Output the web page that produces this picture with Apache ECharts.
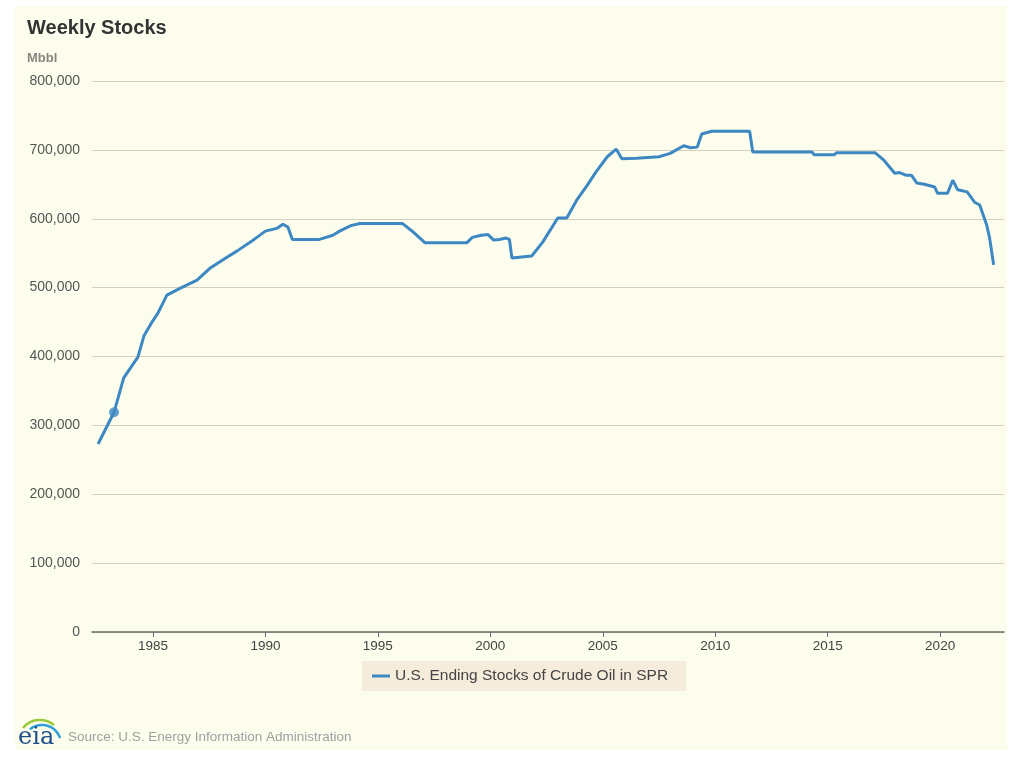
<!DOCTYPE html>
<html>
<head>
<meta charset="utf-8">
<script src="https://cdn.jsdelivr.net/npm/echarts@6/dist/echarts.min.js"></script>
<style>
html,body{margin:0;padding:0;background:#ffffff;}
#chart{width:1024px;height:768px;}
</style>
</head>
<body>
<div id="chart"></div>
<script>
// Decimal year of each reading
var years = [1982.56, 1983.27, 1983.7, 1984.33, 1984.6, 1984.96, 1985.22, 1985.62, 1986.2, 1986.96,
  1987.53, 1988.29, 1988.73, 1989.5, 1990.0, 1990.5, 1990.78, 1991.0, 1991.2, 1992.4,
  1993.0, 1993.3, 1993.8, 1994.2, 1996.1, 1996.6, 1997.1, 1998.95, 1999.2, 1999.6,
  1999.9, 2000.15, 2000.4, 2000.7, 2000.85, 2000.96, 2001.84, 2002.33, 2003.0, 2003.4,
  2003.84, 2004.3, 2004.7, 2005.2, 2005.6, 2005.85, 2006.5, 2007.5, 2008.0, 2008.6,
  2008.9, 2009.2, 2009.4, 2009.84, 2011.53, 2011.67, 2014.3, 2014.4, 2015.3, 2015.4,
  2017.1, 2017.5, 2017.98, 2018.2, 2018.5, 2018.73, 2018.96, 2019.3, 2019.76, 2019.89,
  2020.33, 2020.56, 2020.78, 2021.2, 2021.53, 2021.76, 2022.07, 2022.2, 2022.38];
// U.S. Ending Stocks of Crude Oil in SPR (Mbbl)
var stocks = [273000, 319000, 369000, 399000, 430000, 450000, 463000, 489000, 499000, 511000,
  528000, 544000, 553000, 570000, 582000, 586000, 592000, 588000, 570000, 570000,
  576000, 582000, 590000, 593000, 593000, 580000, 565000, 565000, 573000, 576000,
  577000, 569000, 570000, 572000, 570000, 543000, 546000, 566000, 601000, 601000,
  627000, 648000, 668000, 690000, 701000, 687000, 688000, 690000, 695000, 706000,
  703000, 704000, 723000, 727000, 727000, 697000, 697000, 693000, 693000, 696000,
  696000, 685000, 666000, 667000, 663000, 663000, 652000, 650000, 646000, 637000,
  637000, 656000, 642000, 639000, 624000, 620000, 591000, 572000, 533000];
// Highlighted point
var markYear = [1983.27];
var markValue = [319000];
var xTicks = [1985, 1990, 1995, 2000, 2005, 2010, 2015, 2020];
var seriesName = 'U.S. Ending Stocks of Crude Oil in SPR';

var lineData = years.map(function (y, i) { return [y, stocks[i]]; });
var markData = markYear.map(function (y, i) { return [y, markValue[i]]; });

var chart = echarts.init(document.getElementById('chart'));
var font = "'Liberation Sans', Arial, sans-serif";
chart.setOption({
  backgroundColor: '#ffffff',
  animation: false,
  textStyle: { fontFamily: font },
  title: [
    { text: 'Weekly Stocks', left: 22, top: 13, textStyle: { fontSize: 20, fontWeight: 'bold', color: '#333333', fontFamily: font } },
    { text: 'Mbbl', left: 22, top: 47, textStyle: { fontSize: 13, fontWeight: 'bold', color: '#8c8480', fontFamily: font } }
  ],
  grid: { left: 92, right: 20, top: 81, bottom: 136, containLabel: false },
  xAxis: {
    type: 'value',
    min: 1982.29, max: 2022.84,
    axisLine: { show: true, lineStyle: { color: '#6b6b6b', width: 1.5 } },
    axisTick: { show: true, customValues: xTicks, length: 5, lineStyle: { color: '#6b6b6b' } },
    axisLabel: { customValues: xTicks, color: '#444444', fontSize: 13.5, margin: 7, formatter: function (v) { return String(Math.round(v)); } },
    splitLine: { show: false }
  },
  yAxis: {
    type: 'value',
    min: 0, max: 800000, interval: 100000,
    axisLine: { show: false },
    axisTick: { show: false },
    axisLabel: { color: '#555555', fontSize: 14, margin: 12, formatter: function (v) { return v.toLocaleString('en-US'); } },
    splitLine: { lineStyle: { color: '#d3d0bd', width: 1 } }
  },
  legend: {
    data: [seriesName],
    left: 362, top: 661,
    padding: [7, 18, 7, 10],
    backgroundColor: '#f6ecdc',
    icon: 'rect', itemWidth: 18, itemHeight: 3, itemGap: 8,
    textStyle: { fontSize: 15.5, color: '#444444', fontFamily: font }
  },
  series: [
    {
      name: seriesName, type: 'line', data: lineData,
      showSymbol: false, smooth: false,
      lineStyle: { color: '#3d88c3', width: 3 },
      itemStyle: { color: '#3d88c3' },
      z: 3
    },
    {
      name: 'marker', type: 'scatter', data: markData,
      symbolSize: 10, itemStyle: { color: '#3d88c3' }, z: 4
    }
  ],
  graphic: [
    { type: 'rect', z: -100, shape: { x: 15, y: 6, width: 992, height: 744 }, style: { fill: '#fdfdee' } },
    { type: 'arc', z: 10, shape: { cx: 40, cy: 742, r: 22, startAngle: -Math.PI * 0.78, endAngle: -Math.PI * 0.28 }, style: { stroke: '#9cc93b', lineWidth: 2.5, fill: null } },
    { type: 'arc', z: 10, shape: { cx: 42, cy: 744, r: 19, startAngle: -Math.PI * 0.72, endAngle: -Math.PI * 0.1 }, style: { stroke: '#2f9fd8', lineWidth: 2.5, fill: null } },
    { type: 'text', z: 10, left: 18, top: 726, style: { text: 'eia', font: '24px "DejaVu Serif", "Liberation Serif", serif', fill: '#1f4f8a' } },
    { type: 'text', z: 10, left: 68, top: 730, style: { text: 'Source: U.S. Energy Information Administration', font: "13.5px 'Liberation Sans', Arial, sans-serif", fill: '#a0a0a0' } }
  ]
});
</script>
</body>
</html>
